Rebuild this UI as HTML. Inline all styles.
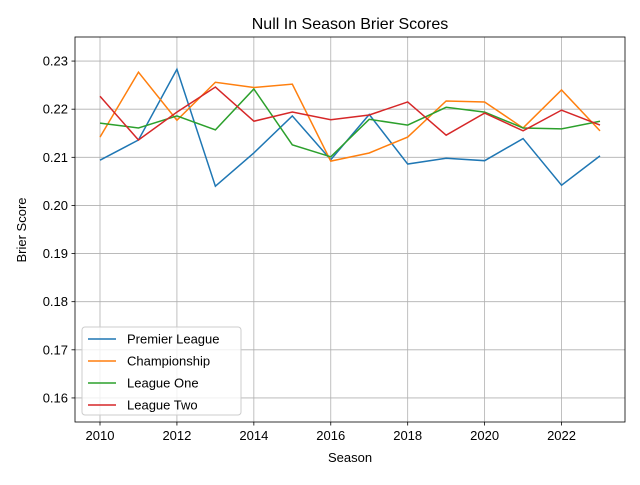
<!DOCTYPE html>
<html><head><meta charset="utf-8"><style>body{margin:0;background:#fff}svg{font-family:"Liberation Sans","DejaVu Sans",sans-serif}</style></head>
<body>
<svg id="c" width="640" height="480"></svg>
<script>
const seasons=[2010,2011,2012,2013,2014,2015,2016,2017,2018,2019,2020,2021,2022,2023];
const premier=[0.2094,0.2136,0.2283,0.2040,0.2109,0.2186,0.2095,0.2189,0.2086,0.2098,0.2093,0.2139,0.2042,0.2103];
const championship=[0.2142,0.2277,0.2177,0.2256,0.2245,0.2252,0.2092,0.2109,0.2142,0.2217,0.2215,0.2161,0.2240,0.2155];
const leagueOne=[0.2171,0.2161,0.2186,0.2157,0.2242,0.2126,0.2101,0.2179,0.2167,0.2204,0.2194,0.2161,0.2159,0.2175];
const leagueTwo=[0.2227,0.2136,0.2194,0.2246,0.2175,0.2194,0.2178,0.2188,0.2215,0.2146,0.2192,0.2155,0.2198,0.2167];
const xTicks=[2010,2012,2014,2016,2018,2020,2022];
const yTicks=[0.16,0.17,0.18,0.19,0.20,0.21,0.22,0.23];
const L=75,R=625,T=37,B=422,x0=2009.35,x1=2023.65,y0=0.1550,y1=0.2350;
const sx=v=>L+(v-x0)/(x1-x0)*(R-L), sy=v=>B-(v-y0)/(y1-y0)*(B-T);
const svg=document.getElementById('c');const NS='http://www.w3.org/2000/svg';
function mk(t,a,p){const e=document.createElementNS(NS,t);for(const k in a)e.setAttribute(k,a[k]);(p||svg).appendChild(e);return e;}
let e;
xTicks.forEach(v=>{const x=sx(v);
e=mk('line',{x1:x,x2:x,y1:T,y2:B,stroke:'#b0b0b0','stroke-width':0.8});
e=mk('line',{x1:x,x2:x,y1:B,y2:B+3.5,stroke:'#000','stroke-width':0.8});
e=mk('text',{x:x,y:B+18,'text-anchor':'middle','font-size':13});e.textContent=v;});
yTicks.forEach(v=>{const y=sy(v);
e=mk('line',{x1:L,x2:R,y1:y,y2:y,stroke:'#b0b0b0','stroke-width':0.8});
e=mk('line',{x1:L-3.5,x2:L,y1:y,y2:y,stroke:'#000','stroke-width':0.8});
e=mk('text',{x:L-7,y:y+4.5,'text-anchor':'end','font-size':13});e.textContent=v.toFixed(2);});
const series=[['Premier League',premier,'#1f77b4'],['Championship',championship,'#ff7f0e'],['League One',leagueOne,'#2ca02c'],['League Two',leagueTwo,'#d62728']];
series.forEach(s=>{e=mk('polyline',{points:s[1].map((v,i)=>sx(seasons[i])+','+sy(v)).join(' '),fill:'none',stroke:s[2],'stroke-width':1.5});
});
e=mk('rect',{x:L,y:T,width:R-L,height:B-T,fill:'none',stroke:'#000','stroke-width':0.8});
e=mk('text',{x:350,y:29,'text-anchor':'middle','font-size':16});e.textContent='Null In Season Brier Scores';
e=mk('text',{x:350,y:462,'text-anchor':'middle','font-size':13});e.textContent='Season';
e=mk('text',{x:26,y:230,'text-anchor':'middle','font-size':13,transform:'rotate(-90 26 230)'});e.textContent='Brier Score';
const lg=mk('g',{});
mk('rect',{x:82,y:327,width:159,height:88,rx:3,fill:'#fff','fill-opacity':0.8,stroke:'#ccc'},lg);
series.forEach((s,i)=>{const y=339+i*22;
e=mk('line',{x1:88,x2:116,y1:y,y2:y,stroke:s[2],'stroke-width':1.5},lg);
e=mk('text',{x:127,y:y+4.5,'font-size':13},lg);e.textContent=s[0];});
</script>
</body></html>
